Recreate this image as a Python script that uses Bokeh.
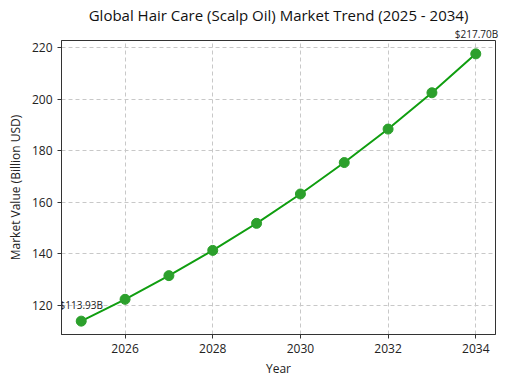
from bokeh.plotting import figure
from bokeh.models import ColumnDataSource, Range1d, FixedTicker, Label, Title
from bokeh.embed import file_html
from bokeh.resources import INLINE

years = [2025, 2026, 2027, 2028, 2029, 2030, 2031, 2032, 2033, 2034]
values = [113.93, 122.4, 131.6, 141.4, 151.9, 163.3, 175.5, 188.5, 202.6, 217.70]
x_ticks = [2026, 2028, 2030, 2032, 2034]
y_ticks = [120, 140, 160, 180, 200, 220]
title_text = "Global Hair Care (Scalp Oil) Market Trend (2025 - 2034)"
x_label = "Year"
y_label = "Market Value (Billion USD)"

FONT = "Open Sans"

xpad = (max(years) - min(years)) * 0.05
ypad = (max(values) - min(values)) * 0.05
x0, x1 = min(years) - xpad, max(years) + xpad
FW, FH = 434, 294

p = figure(frame_width=FW, frame_height=FH, output_backend="svg", toolbar_location=None,
           x_range=Range1d(x0, x1),
           y_range=Range1d(min(values) - ypad, max(values) + ypad),
           min_border_left=61, min_border_right=9, min_border_top=40, min_border_bottom=40)

p.title = Title(text=title_text, align="center", text_font=FONT,
                text_font_size="15px", text_font_style="normal",
                text_color="#111111", standoff=0)

# end-point label above the frame (drawn as a title so it is not clipped)
last_px = (years[-1] - x0) / (x1 - x0) * FW
p.add_layout(Title(text=f"${values[-1]:.2f}B", align="left", offset=last_px - 21,
                   text_font=FONT, text_font_size="10px", text_font_style="normal",
                   text_color="#222222", standoff=0), "above")

src = ColumnDataSource(dict(x=years, y=values))
p.line("x", "y", source=src, line_color="#109e10", line_width=2)
p.scatter("x", "y", source=src, size=10, fill_color="#2ca02c", line_color="#2ca02c")

p.add_layout(Label(x=years[0], y=values[0], text=f"${values[0]:.2f}B", x_offset=0, y_offset=9,
                   text_align="center", text_baseline="bottom",
                   text_font=FONT, text_font_size="10px", text_color="#222222"))

for ax in (p.xaxis, p.yaxis):
    ax.axis_label_text_font = FONT
    ax.axis_label_text_font_style = "normal"
    ax.axis_label_text_font_size = "12px"
    ax.major_label_text_font = FONT
    ax.major_label_text_font_size = "12px"
    ax.major_label_text_color = "#222222"
    ax.axis_label_text_color = "#222222"
    ax.minor_tick_line_color = None
    ax.major_tick_out = 4
    ax.major_tick_in = 0
    ax.axis_line_color = "#333333"
    ax.major_tick_line_color = "#333333"

p.xaxis.axis_label = x_label
p.yaxis.axis_label = y_label
p.xaxis.ticker = FixedTicker(ticks=x_ticks)
p.yaxis.ticker = FixedTicker(ticks=y_ticks)
p.xaxis.axis_label_standoff = 4
p.yaxis.axis_label_standoff = 5

p.xgrid.ticker = FixedTicker(ticks=x_ticks)
p.ygrid.ticker = FixedTicker(ticks=y_ticks)
for g in (p.xgrid, p.ygrid):
    g.grid_line_color = "#c8c8c8"
    g.grid_line_dash = "4 3"
    g.grid_line_width = 1

p.outline_line_color = "#333333"
p.outline_line_alpha = 1
p.background_fill_color = "white"
p.border_fill_color = "white"

open("out.html", "w").write(file_html(p, INLINE))
